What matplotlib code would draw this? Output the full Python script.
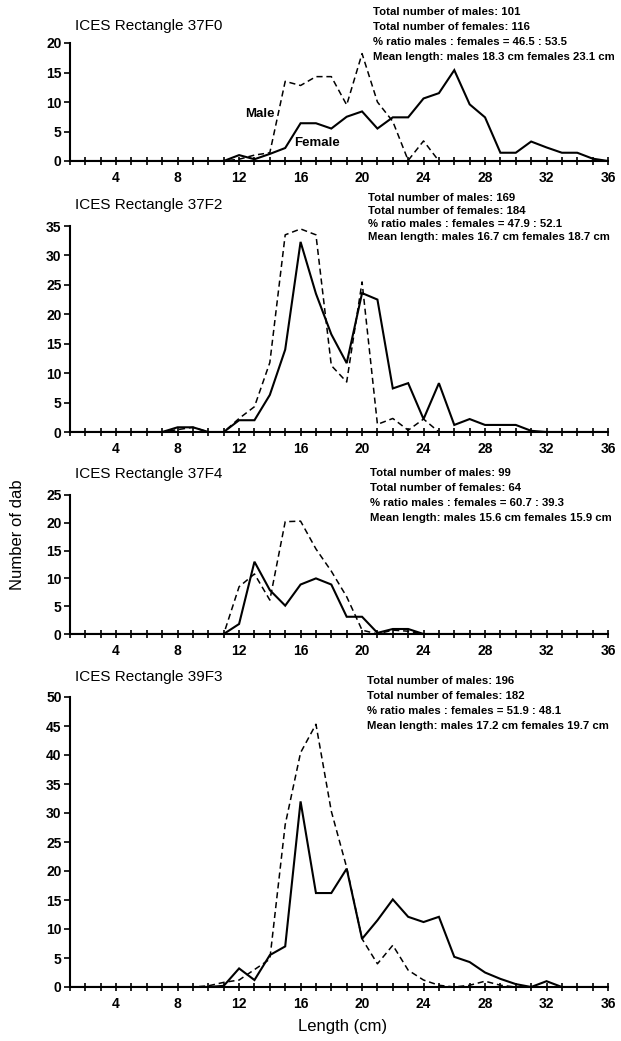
import numpy as np
import matplotlib.pyplot as plt

plt.rcParams.update({
    "font.family": ["Liberation Sans", "DejaVu Sans"],
    "font.size": 10,
})

length = np.arange(1, 37)

# --- 37F0 ---
female_37f0 = [0, 0, 0, 0, 0, 0, 0, 0, 0, 0,
               0, 1.0, 0.3, 1.2, 2.2, 6.4, 6.4, 5.5, 7.5, 8.4,
               5.5, 7.4, 7.4, 10.6, 11.5, 15.4, 9.6, 7.4, 1.4, 1.4,
               3.3, 2.3, 1.4, 1.4, 0.4, 0]
male_37f0 = [0, 0, 0, 0, 0, 0, 0, 0, 0, 0,
             0, 0.3, 1.0, 1.4, 13.5, 12.8, 14.3, 14.3, 9.5, 18.2,
             10.0, 6.7, 0.1, 3.4, 0, 0, 0, 0, 0, 0,
             0, 0, 0, 0, 0, 0]

# --- 37F2 ---
female_37f2 = [0, 0, 0, 0, 0, 0, 0, 0.8, 0.8, 0,
               0, 2.0, 2.0, 6.3, 14.0, 32.3, 23.5, 16.6, 11.7, 23.6,
               22.5, 7.4, 8.3, 2.2, 8.3, 1.2, 2.2, 1.2, 1.2, 1.2,
               0.2, 0, 0, 0, 0, 0]
male_37f2 = [0, 0, 0, 0, 0, 0, 0, 0.4, 0.8, 0,
             0, 2.3, 4.3, 11.8, 33.5, 34.5, 33.5, 11.3, 8.5, 25.5,
             1.3, 2.3, 0.3, 2.2, 0, 0, 0, 0, 0, 0,
             0, 0, 0, 0, 0, 0]

# --- 37F4 ---
female_37f4 = [0, 0, 0, 0, 0, 0, 0, 0, 0, 0,
               0, 1.8, 13.0, 7.9, 5.1, 8.9, 10.0, 8.9, 3.1, 3.1,
               0.2, 0.9, 0.9, 0, 0, 0, 0, 0, 0, 0,
               0, 0, 0, 0, 0, 0]
male_37f4 = [0, 0, 0, 0, 0, 0, 0, 0, 0, 0,
             0, 8.5, 10.8, 6.1, 20.2, 20.3, 15.3, 11.3, 6.7, 0.7,
             0, 0.7, 0.5, 0, 0, 0, 0, 0, 0, 0,
             0, 0, 0, 0, 0, 0]

# --- 39F3 ---
female_39f3 = [0, 0, 0, 0, 0, 0, 0, 0, 0, 0,
               0.2, 3.2, 1.2, 5.5, 7.0, 32.0, 16.2, 16.2, 20.4, 8.3,
               11.5, 15.1, 12.1, 11.2, 12.1, 5.2, 4.3, 2.5, 1.4, 0.5,
               0, 1.0, 0, 0, 0, 0]
male_39f3 = [0, 0, 0, 0, 0, 0, 0, 0, 0, 0.2,
             0.8, 1.2, 3.0, 4.8, 28.0, 40.4, 45.3, 30.3, 20.6, 8.3,
             4.0, 7.2, 2.9, 1.2, 0.3, 0, 0.3, 1.0, 0.3, 0,
             0, 0, 0, 0, 0, 0]

titles = ["ICES Rectangle 37F0", "ICES Rectangle 37F2",
          "ICES Rectangle 37F4", "ICES Rectangle 39F3"]
n_males = [101, 169, 99, 196]
n_females = [116, 184, 64, 182]
ratio_m = [46.5, 47.9, 60.7, 51.9]
ratio_f = [53.5, 52.1, 39.3, 48.1]
mean_m = [18.3, 16.7, 15.6, 17.2]
mean_f = [23.1, 18.7, 15.9, 19.7]
ymax = [20, 35, 25, 50]

females = [female_37f0, female_37f2, female_37f4, female_39f3]
males = [male_37f0, male_37f2, male_37f4, male_39f3]

W, H = 621, 1041
fig = plt.figure(figsize=(W / 100, H / 100), dpi=100)

# axes boxes in pixels: (top, bottom)
boxes = [(43, 161), (226, 432), (495, 634), (697, 987)]
title_y = [26, 205, 474, 677]
stats_y = [12, 198, 473, 681]
stats_x = [373, 368, 370, 367]
stats_gap = [15, 13, 15, 15]
x0, x1 = 70, 608

axes = []
for i in range(4):
    top, bot = boxes[i]
    ax = fig.add_axes([x0 / W, 1 - bot / H, (x1 - x0) / W, (bot - top) / H])
    axes.append(ax)
    ax.plot(length, females[i], color="black", lw=1.5, solid_joinstyle="miter")
    ax.plot(length, males[i], color="black", lw=1.1, ls=(0, (4, 2.5)))

    ax.set_xlim(1, 36)
    ax.set_ylim(0, ymax[i])
    ax.set_xticks(np.arange(4, 37, 4))
    ax.set_xticks(np.arange(1, 37), minor=True)
    ax.set_yticks(np.arange(0, ymax[i] + 1, 5))
    ax.tick_params(axis="x", which="both", direction="inout", length=6,
                   width=1.2, pad=4)
    ax.tick_params(axis="y", direction="out", length=4, width=1.2, pad=2)
    for lab in ax.get_xticklabels() + ax.get_yticklabels():
        lab.set_fontweight("bold")
        lab.set_fontsize(10)
    for s in ["top", "right"]:
        ax.spines[s].set_visible(False)
    for s in ["left", "bottom"]:
        ax.spines[s].set_linewidth(1.5)
    ax.patch.set_alpha(0)

    fig.text(75 / W, 1 - title_y[i] / H, titles[i], fontsize=11,
             ha="left", va="center")
    lines = [
        f"Total number of males: {n_males[i]}",
        f"Total number of females: {n_females[i]}",
        f"% ratio males : females = {ratio_m[i]} : {ratio_f[i]}",
        f"Mean length: males {mean_m[i]} cm females {mean_f[i]} cm",
    ]
    for k, line in enumerate(lines):
        fig.text(stats_x[i] / W, 1 - (stats_y[i] + k * stats_gap[i]) / H,
                 line, fontsize=8.2, fontweight="bold",
                 ha="left", va="center")

axes[0].text(14.3, 8.0, "Male", fontsize=9.5, fontweight="bold",
             ha="right", va="center")
axes[0].text(15.6, 3.0, "Female", fontsize=9.5, fontweight="bold",
             ha="left", va="center")

fig.text(18 / W, 1 - 535 / H, "Number of dab", rotation=90, fontsize=12,
         ha="center", va="center")
fig.text(343 / W, 1 - 1027 / H, "Length (cm)", fontsize=12,
         ha="center", va="center")

fig.savefig("out.png", dpi=100)
